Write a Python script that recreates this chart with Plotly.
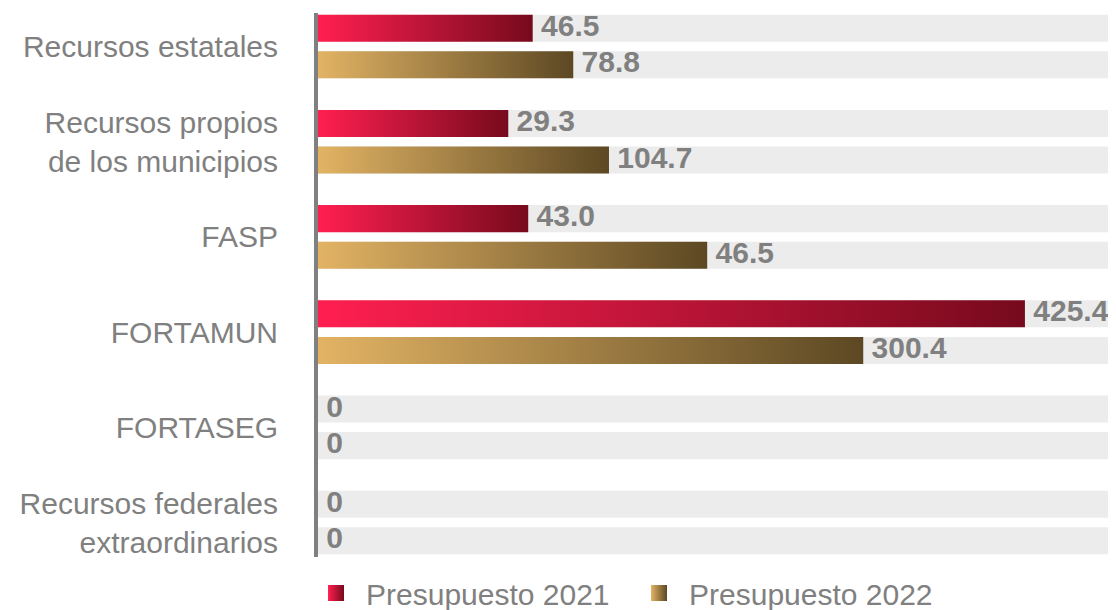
import plotly.graph_objects as go

# ---- data ----
categories = [
    "Recursos estatales",
    "Recursos propios<br>de los municipios",
    "FASP",
    "FORTAMUN",
    "FORTASEG",
    "Recursos federales<br>extraordinarios",
]
# printed values (labels)
labels_2021 = ["46.5", "29.3", "43.0", "425.4", "0", "0"]
labels_2022 = ["78.8", "104.7", "46.5", "300.4", "0", "0"]
# drawn bar lengths as they appear in the picture (same scale as FORTAMUN 2021 = 425.4)
bar_len_2021 = [129.2, 114.5, 126.5, 425.4, 0, 0]
bar_len_2022 = [153.6, 175.1, 234.2, 328.1, 0, 0]
series_names = ["Presupuesto 2021", "Presupuesto 2022"]

# ---- styles ----
grad_2021 = [[0, "#FF1F50"], [1, "#770A1D"]]
grad_2022 = [[0, "#E2B364"], [1, "#5C4823"]]
track_color = "#ECECEC"
text_gray = "#808080"
FONT = "Liberation Sans, Arial, sans-serif"
x_max = 480.2
offset = 0.192
half_h = 0.142

fig = go.Figure()

# background tracks
for off in (-offset, offset):
    fig.add_trace(go.Bar(
        y=[i + off for i in range(len(categories))],
        x=[x_max] * len(categories),
        orientation="h", width=2 * half_h,
        marker=dict(color=track_color, line=dict(width=0)),
        showlegend=False, hoverinfo="skip",
    ))

def add_series(lengths, labels, off, grad, name):
    for i, L in enumerate(lengths):
        c = i + off
        fig.add_trace(go.Scatter(
            x=[0, L, L, 0, 0],
            y=[c - half_h, c - half_h, c + half_h, c + half_h, c - half_h],
            mode="lines", fill="toself",
            fillgradient=dict(type="horizontal", colorscale=grad),
            line=dict(width=0, color=grad[0][1]),
            showlegend=False, hoverinfo="skip",
        ))
    fig.add_trace(go.Scatter(
        x=lengths, y=[i + off for i in range(len(lengths))],
        mode="text", text=labels, texttemplate=" %{text}",
        textposition="middle right",
        textfont=dict(family=FONT, size=30, color=text_gray, weight="bold"),
        showlegend=False, hoverinfo="skip",
    ))
    # legend entry with a gradient square
    fig.add_trace(go.Scatter(
        x=[None], y=[None], mode="markers", name=name,
        marker=dict(symbol="square", size=16, color=grad[0][1],
                    gradient=dict(type="horizontal", color=grad[1][1]),
                    line=dict(width=0)),
    ))

add_series(bar_len_2021, labels_2021, -offset, grad_2021, series_names[0])
add_series(bar_len_2022, labels_2022, offset, grad_2022, series_names[1])

fig.update_layout(
    width=1108, height=602,
    margin=dict(l=310, r=0, t=5, b=53, autoexpand=False),
    plot_bgcolor="white", paper_bgcolor="white",
    barmode="overlay",
    font=dict(family=FONT, size=30, color=text_gray),
    xaxis=dict(range=[0, x_max], visible=False, showgrid=False, zeroline=False),
    yaxis=dict(
        range=[5.362, -0.352],
        tickvals=list(range(len(categories))), ticktext=categories,
        showline=True, linewidth=4, linecolor="#808080",
        showgrid=False, zeroline=False, ticks="",
        ticklabelstandoff=30,
        tickfont=dict(family=FONT, size=30, color=text_gray),
    ),
    legend=dict(
        orientation="h", x=-0.015, xanchor="left", y=-0.0184, yanchor="top",
        font=dict(family=FONT, size=30, color=text_gray),
        bgcolor="rgba(0,0,0,0)",
        itemwidth=50,
        entrywidth=258, entrywidthmode="pixels",
    ),
)

fig.write_html("out.html")
